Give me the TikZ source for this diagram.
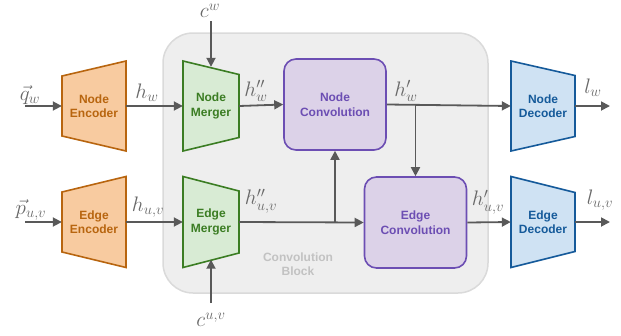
\RequirePackage{fix-cm}
\documentclass[tikz,border=0pt]{standalone}
\usepackage{fontspec}
\newfontfamily\labfont{Liberation Sans}
\usetikzlibrary{arrows.meta,calc}
\definecolor{encfill}{HTML}{F8CBA0}
\definecolor{encline}{HTML}{B8650F}
\definecolor{merfill}{HTML}{D8EBD4}
\definecolor{merline}{HTML}{3B7D23}
\definecolor{convfill}{HTML}{DCD2E8}
\definecolor{convline}{HTML}{6C4EB3}
\definecolor{decfill}{HTML}{CFE2F3}
\definecolor{decline}{HTML}{155A9A}
\definecolor{blkfill}{HTML}{EEEEEE}
\definecolor{blkline}{HTML}{DADADA}
\definecolor{blktext}{HTML}{C2C2C2}
\definecolor{ln}{HTML}{595959}
\definecolor{ml}{HTML}{686868}
\tikzset{
  arr/.style={draw=ln, line width=1.8pt, -{Triangle[length=9pt,width=9pt]}},
  lbl/.style={text=ml, font=\fontsize{21}{24}\selectfont, inner sep=0pt},
  blk/.style={draw=none, inner sep=0pt, align=center, font=\labfont\bfseries\fontsize{12}{14.5}\selectfont},
  convbox/.style={blk, draw=convline, fill=convfill, text=convline, rounded corners=12pt, line width=1.6pt, minimum width=102pt, minimum height=91pt},
}
% name, cx, cy, width, half-left, half-right, colour prefix, text
\newcommand\trapz[8]{%
  \filldraw[fill=#7fill, draw=#7line, line width=1.6pt, line join=miter]
    ({#2-#4/2},{#3-#5}) -- ({#2+#4/2},{#3-#6}) -- ({#2+#4/2},{#3+#6}) -- ({#2-#4/2},{#3+#5}) -- cycle;
  \pgfmathsetmacro\trh{2*max(#5,#6)}%
  \node[blk, text=#7line, minimum width=#4pt, minimum height=\trh pt] (#1) at (#2,#3) {#8};
}
\begin{document}
\begin{tikzpicture}[x=1pt,y=-1pt]
\useasboundingbox (0,0) rectangle (621,335);
% convolution block
\node[draw=blkline, fill=blkfill, rounded corners=30pt, line width=1.5pt, minimum width=325pt, minimum height=260pt] (cb) at (325.5,163) {};
\node[blk, text=blktext] (cbt) at (298,264) {Convolution\\Block};
% trapezoids
\trapz{ne}{94}{106}{64}{30}{45}{enc}{Node\\Encoder}
\trapz{ee}{94}{222}{64}{30}{45.5}{enc}{Edge\\Encoder}
\trapz{nm}{211}{106}{56}{45}{31.5}{mer}{Node\\Merger}
\trapz{em}{211}{222}{56}{45.5}{31}{mer}{Edge\\Merger}
\trapz{nd}{543}{106}{64}{45}{30.5}{dec}{Node\\Decoder}
\trapz{ed}{543}{222}{64}{45.5}{29.5}{dec}{Edge\\Decoder}
% convolutions
\node[convbox] (nc) at (335,104.5) {Node\\Convolution};
\node[convbox] (ec) at (415.5,222.5) {Edge\\Convolution};
% free ends
\coordinate (qin) at (25,106);
\coordinate (pin) at (25,222);
\coordinate (lwout) at (610,106);
\coordinate (luvout) at (610,222);
\coordinate (cwtop) at (211,21);
\coordinate (cuvbot) at (211,303);
% node row
\draw[arr] (qin) -- (ne.west);
\draw[arr] (ne.east) -- (nm.west);
\draw[arr] (nm.east) -- (nc.west);
\draw[arr] (nc.east) -- (nd.west);
\draw[arr] (ec.north |- nc.east) -- (ec.north);
\draw[arr] (nd.east) -- (lwout);
% edge row
\draw[arr] (pin) -- (ee.west);
\draw[arr] (ee.east) -- (em.west);
\draw[arr] (em.east) -- (ec.west);
\draw[arr] (nc.south |- em.east) -- (nc.south);
\draw[arr] (ec.east) -- (ed.west);
\draw[arr] (ed.east) -- (luvout);
% conditioning
\draw[arr] (cwtop) -- ($(nm.north)+(0,6)$);
\draw[arr] (cuvbot) -- ($(em.south)+(0,-8)$);
% labels
\node[lbl] (lq) at (30,95) {$\vec{q}_w$};
\node[lbl] (lhw) at (147,93) {$h_w$};
\node[lbl] (lhw2) at (256,91) {$h''_w$};
\node[lbl] (lhw1) at (406,91) {$h'_w$};
\node[lbl] (llw) at (593,88) {$l_w$};
\node[lbl] (lp) at (31,210) {$\vec{p}_{u,v}$};
\node[lbl] (lhuv) at (148,207) {$h_{u,v}$};
\node[lbl] (lhuv2) at (261,201) {$h''_{u,v}$};
\node[lbl] (lhuv1) at (488,202) {$h'_{u,v}$};
\node[lbl] (lluv) at (600,200) {$l_{u,v}$};
\node[lbl] (lcw) at (210,11) {$c^w$};
\node[lbl] (lcuv) at (211,320) {$c^{u,v}$};
\end{tikzpicture}
\end{document}
